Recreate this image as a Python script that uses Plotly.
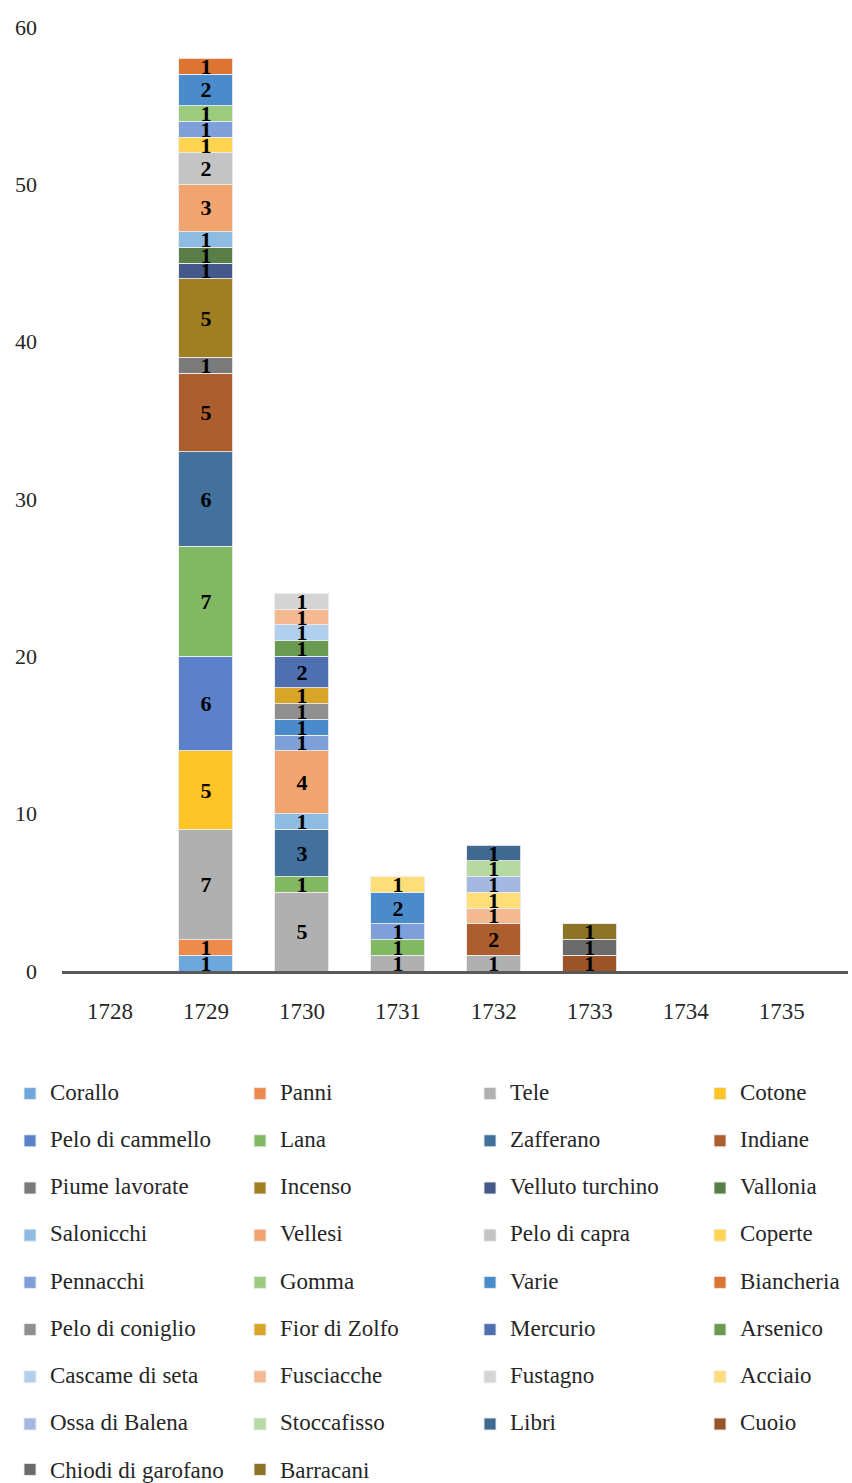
import plotly.graph_objects as go

years = ["1728", "1729", "1730", "1731", "1732", "1733", "1734", "1735"]

commodities = [
    "Corallo", "Panni", "Tele", "Cotone",
    "Pelo di cammello", "Lana", "Zafferano", "Indiane",
    "Piume lavorate", "Incenso", "Velluto turchino", "Vallonia",
    "Salonicchi", "Vellesi", "Pelo di capra", "Coperte",
    "Pennacchi", "Gomma", "Varie", "Biancheria",
    "Pelo di coniglio", "Fior di Zolfo", "Mercurio", "Arsenico",
    "Cascame di seta", "Fusciacche", "Fustagno", "Acciaio",
    "Ossa di Balena", "Stoccafisso", "Libri", "Cuoio",
    "Chiodi di garofano", "Barracani",
]

colors = [
    "#6EA7DB", "#EE8A4C", "#B0B0B0", "#FFC425",
    "#5B81CB", "#83B862", "#41719C", "#AD5E2E",
    "#7A7A7A", "#A07F22", "#44598A", "#5A7E48",
    "#8DBBE2", "#F2A46F", "#C4C4C4", "#FFD44F",
    "#7F9FD8", "#9CCB7E", "#4A8CCB", "#DD7431",
    "#8F8F8F", "#D7A628", "#4E6FB0", "#6A9A4F",
    "#B1D0EE", "#F5B992", "#D4D4D4", "#FFDD78",
    "#A3B9E4", "#B5D9A1", "#3F6990", "#9B5327",
    "#6B6B6B", "#8C7426",
]

# values per year, aligned with `commodities` (0 = not present)
v1728 = [0, 0, 0, 0, 0, 0, 0, 0, 0, 0, 0, 0, 0, 0, 0, 0, 0,
         0, 0, 0, 0, 0, 0, 0, 0, 0, 0, 0, 0, 0, 0, 0, 0, 0]
v1729 = [1, 1, 7, 5, 6, 7, 6, 5, 1, 5, 1, 1, 1, 3, 2, 1, 1,
         1, 2, 1, 0, 0, 0, 0, 0, 0, 0, 0, 0, 0, 0, 0, 0, 0]
v1730 = [0, 0, 5, 0, 0, 1, 3, 0, 0, 0, 0, 0, 1, 4, 0, 0, 1,
         0, 1, 0, 1, 1, 2, 1, 1, 1, 1, 0, 0, 0, 0, 0, 0, 0]
v1731 = [0, 0, 1, 0, 0, 1, 0, 0, 0, 0, 0, 0, 0, 0, 0, 0, 1,
         0, 2, 0, 0, 0, 0, 0, 0, 0, 0, 1, 0, 0, 0, 0, 0, 0]
v1732 = [0, 0, 1, 0, 0, 0, 0, 2, 0, 0, 0, 0, 0, 0, 0, 0, 0,
         0, 0, 0, 0, 0, 0, 0, 0, 1, 0, 1, 1, 1, 1, 0, 0, 0]
v1733 = [0, 0, 0, 0, 0, 0, 0, 0, 0, 0, 0, 0, 0, 0, 0, 0, 0,
         0, 0, 0, 0, 0, 0, 0, 0, 0, 0, 0, 0, 0, 0, 1, 1, 1]
v1734 = [0, 0, 0, 0, 0, 0, 0, 0, 0, 0, 0, 0, 0, 0, 0, 0, 0,
         0, 0, 0, 0, 0, 0, 0, 0, 0, 0, 0, 0, 0, 0, 0, 0, 0]
v1735 = [0, 0, 0, 0, 0, 0, 0, 0, 0, 0, 0, 0, 0, 0, 0, 0, 0,
         0, 0, 0, 0, 0, 0, 0, 0, 0, 0, 0, 0, 0, 0, 0, 0, 0]

y_ticks = [0, 10, 20, 30, 40, 50, 60]

by_year = [v1728, v1729, v1730, v1731, v1732, v1733, v1734, v1735]

FONT = "Liberation Serif, Times New Roman, serif"
TXT = "#262626"

fig = go.Figure()
legend_ids = ["legend", "legend2", "legend3", "legend4"]
for i, name in enumerate(commodities):
    vals = [yv[i] if yv[i] else None for yv in by_year]
    if i < 32:
        leg = legend_ids[i % 4]
        label = "<span style='font-size:23px;baseline-shift:7px'>%s</span>" % name
    else:
        leg = "legend5" if i == 32 else "legend6"
        label = name
    fig.add_trace(go.Bar(
        x=years, y=vals, name=label, legend=leg,
        marker=dict(color=colors[i], line=dict(color="rgba(235,235,235,0.9)", width=1)),
        texttemplate="%{y}", textposition="inside", insidetextanchor="middle",
        textangle=0, constraintext="none",
        textfont=dict(family=FONT, size=22, color="black", weight="bold"),
        hoverinfo="skip",
    ))

W, H = 852, 1483
L, R, T, B = 62, 4, 27, 512
pw = W - L - R
ph = H - T - B

def px_x(p):
    return (p - L) / pw

def px_y(p):
    return (H - B - p) / ph

legend_common = dict(orientation="v", bgcolor="rgba(0,0,0,0)", traceorder="normal",
                      xanchor="left", yanchor="top", itemclick=False,
                      font=dict(family=FONT, size=34, color=TXT))
layout_legends = {}
for k, xp in enumerate([10, 240, 470, 700]):
    layout_legends[legend_ids[k]] = dict(legend_common, x=px_x(xp), y=px_y(1065))
for key, xp in [("legend5", 10), ("legend6", 240)]:
    layout_legends[key] = dict(legend_common, x=px_x(xp), y=px_y(1448),
                               font=dict(family=FONT, size=23, color=TXT))

fig.update_layout(
    width=W, height=H,
    margin=dict(l=L, r=R, t=T, b=B, autoexpand=False),
    paper_bgcolor="white", plot_bgcolor="white",
    barmode="stack", bargap=0.4375,
    uniformtext=dict(minsize=22, mode="show"),
    font=dict(family=FONT, color=TXT),
    xaxis=dict(type="category", range=[-0.5, 7.69], showgrid=False, zeroline=False,
               showline=True, linecolor="#595959", linewidth=3, ticks="",
               tickfont=dict(family=FONT, size=23, color=TXT), ticklabelstandoff=17),
    yaxis=dict(range=[0, 60], tickvals=y_ticks, showgrid=False, zeroline=False,
               showline=False, ticks="",
               tickfont=dict(family=FONT, size=22, color=TXT), ticklabelstandoff=24),
    **layout_legends,
)

fig.write_html("out.html")
